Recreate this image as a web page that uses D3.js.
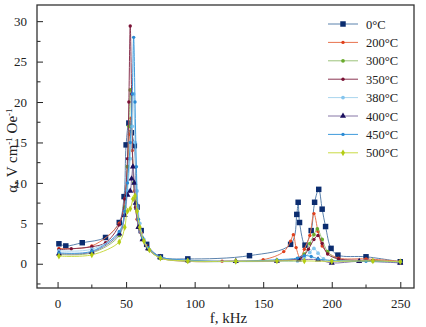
<!DOCTYPE html>
<html>
<head>
<meta charset="utf-8">
<script src="https://cdn.jsdelivr.net/npm/d3@7"></script>
<style>
  html, body { margin: 0; padding: 0; background: #fff; }
  svg { display: block; }
  svg text { font-family: "Liberation Serif", "DejaVu Serif", serif; }
</style>
</head>
<body>
<svg id="chart" width="426" height="327"></svg>
<script>
// Magnetoelectric coefficient vs frequency for several annealing temperatures
const seriesNames = ["0\u00B0C", "200\u00B0C", "300\u00B0C", "350\u00B0C", "380\u00B0C", "400\u00B0C", "450\u00B0C", "500\u00B0C"];

const f0 = [1, 6, 18, 35, 45, 48.5, 50, 52, 54, 56, 58, 61, 65, 75, 95, 140, 170, 174.5, 175.5, 176.5, 180.5, 185, 187.5, 190.5, 193, 195.5, 199.5, 204.5, 225, 250];
const a0 = [2.47, 2.2, 2.6, 3.25, 5.1, 8.3, 14.7, 17.4, 16.2, 14.6, 7.0, 4.1, 2.4, 0.85, 0.6, 1.0, 2.4, 6.1, 7.6, 5.1, 2.3, 4.1, 7.6, 9.2, 6.75, 4.6, 1.9, 1.07, 0.86, 0.25];

const f200 = [1, 25, 45, 49, 51, 52.5, 53.5, 54.5, 56, 58, 61, 65, 75, 95, 120, 150, 165, 170, 172, 174, 177, 180, 184, 187, 190, 193, 197, 205, 225, 250];
const a200 = [1.9, 2.2, 5.0, 8, 12, 16, 18, 14, 9, 5.5, 3.8, 2.2, 0.75, 0.3, 0.3, 0.5, 1.5, 2.8, 3.6, 2.0, 0.7, 1.8, 3.5, 6.2, 4.0, 2.2, 1.4, 0.7, 0.6, 0.3];

const f300 = [1, 25, 45, 49, 51, 52, 53, 54, 55.5, 57, 59, 62, 66, 75, 95, 130, 160, 175, 180, 184, 187, 189.5, 193, 197, 205, 230, 250];
const a300 = [1.15, 1.35, 3.5, 7, 12, 17, 21.5, 17, 10, 7, 4.5, 3, 1.8, 0.7, 0.3, 0.3, 0.4, 0.6, 1.2, 2.5, 3.6, 4.3, 3.0, 1.5, 0.5, 0.35, 0.2];

const f350 = [1, 10, 25, 35, 45, 49, 51, 52, 53, 54, 55, 57, 59, 62, 66, 75, 95, 130, 160, 178, 183, 187, 190, 193, 197, 205, 230, 250];
const a350 = [1.75, 1.85, 2.1, 2.6, 4.8, 8, 13, 20, 29.4, 21, 12, 7, 4.5, 3, 1.8, 0.8, 0.35, 0.3, 0.35, 0.8, 1.8, 3, 3.5, 2.5, 1.2, 0.6, 0.4, 0.2];

const f380 = [1, 25, 45, 49, 51, 53, 54.5, 55.5, 56.5, 58, 60, 63, 67, 75, 95, 130, 160, 175, 180, 184, 187, 190, 194, 200, 220, 250];
const a380 = [1.6, 1.8, 3.8, 6, 9, 13, 17, 21, 15, 9, 5, 3, 1.7, 0.8, 0.35, 0.25, 0.3, 0.35, 0.8, 1.4, 1.9, 1.3, 0.6, 0.4, 0.3, 0.2];

const f400 = [1, 25, 45, 49, 51, 53, 54, 55, 56, 57, 59, 62, 66, 75, 95, 130, 160, 176, 190, 200, 220, 250];
const a400 = [1.25, 1.45, 3.7, 6, 8.5, 9, 10.5, 12, 10, 7.5, 4.5, 3, 1.9, 0.8, 0.4, 0.3, 0.35, 0.5, 0.5, 0.1, 0.3, 0.1];

const f450 = [1, 25, 45, 49, 51, 53, 54.5, 55.5, 56.5, 57.5, 59, 62, 66, 75, 95, 130, 160, 175, 180, 185, 190, 200, 225, 250];
const a450 = [1.35, 1.55, 4.0, 6.5, 10, 15, 21, 28, 20, 12, 5.5, 3.2, 2.0, 0.85, 0.45, 0.3, 0.5, 0.7, 1.0, 0.9, 0.6, 0.4, 0.3, 0.25];

const f500 = [1, 25, 45, 49, 51, 53, 55, 56.5, 58, 60, 63, 67, 75, 95, 130, 160, 180, 200, 230, 250];
const a500 = [0.95, 1.1, 2.7, 4.5, 6.5, 6.8, 8.0, 8.4, 6.5, 4.5, 2.8, 1.7, 0.7, 0.35, 0.3, 0.35, 0.35, 0.3, 0.35, 0.25];

const freqs = [f0, f200, f300, f350, f380, f400, f450, f500];
const alphas = [a0, a200, a300, a350, a380, a400, a450, a500];

const xTicks = [0, 50, 100, 150, 200, 250];
const yTicks = [0, 5, 10, 15, 20, 25, 30];

// styling per series: line colour, marker colour, marker shape, marker size
const lineColors = ["#5b82ad", "#e8734e", "#9cc27a", "#8a3552", "#a9d6ee", "#8676a6", "#3f9bdc", "#c9da44"];
const markColors = ["#0b2c6f", "#e0401c", "#6aab2c", "#7a1034", "#84c5ee", "#1c1060", "#2a8ad4", "#b4cc14"];
const markShapes = [d3.symbolSquare, d3.symbolCircle, d3.symbolCircle, d3.symbolCircle, d3.symbolCircle, d3.symbolTriangle, d3.symbolCircle, d3.symbolDiamond];
const markSizes = [30, 9, 11, 9, 11, 16, 9, 13];

const FONT = "'Liberation Serif', 'DejaVu Serif', serif";
const svg = d3.select("#chart");
const margin = { left: 37, top: 5, right: 12, bottom: 39 };
const W = 426, H = 327;

const x = d3.scaleLinear().domain([-15, 260]).range([margin.left, W - margin.right]);
const y = d3.scaleLinear().domain([-3, 32]).range([H - margin.bottom, margin.top]);

const plot = svg.append("g");
plot.append("clipPath").attr("id", "clip")
  .append("rect")
  .attr("x", margin.left).attr("y", margin.top)
  .attr("width", W - margin.left - margin.right)
  .attr("height", H - margin.top - margin.bottom);

const line = d3.line()
  .x(d => x(d[0])).y(d => y(d[1]))
  .curve(d3.curveCatmullRom.alpha(0.5));

const data = freqs.map((fs, i) => fs.map((f, j) => [f, alphas[i][j]]));

const lines = plot.append("g").attr("clip-path", "url(#clip)");
data.forEach((pts, i) => {
  lines.append("path")
    .attr("d", line(pts))
    .attr("fill", "none")
    .attr("stroke", lineColors[i])
    .attr("stroke-width", 1);
  lines.append("g").selectAll("path")
    .data(pts).join("path")
    .attr("transform", d => `translate(${x(d[0])},${y(d[1])})`)
    .attr("d", d3.symbol().type(markShapes[i]).size(markSizes[i]))
    .attr("fill", markColors[i]);
});

// axes with inward ticks
const xMinor = d3.range(25, 250, 50);
const yMinor = d3.range(-2.5, 30, 5);
const xAxis = svg.append("g").attr("transform", `translate(0,${H - margin.bottom})`);
xAxis.call(d3.axisBottom(x).tickValues(xTicks).tickSize(-6).tickPadding(11).tickFormat(d3.format("d")));
xAxis.append("g").selectAll("line").data(xMinor).join("line")
  .attr("x1", d => x(d)).attr("x2", d => x(d)).attr("y1", 0).attr("y2", -3.5)
  .attr("stroke", "#222");

const yAxis = svg.append("g").attr("transform", `translate(${margin.left},0)`);
yAxis.call(d3.axisLeft(y).tickValues(yTicks).tickSize(-6).tickPadding(10).tickFormat(d3.format("d")));
yAxis.append("g").selectAll("line").data(yMinor).join("line")
  .attr("y1", d => y(d)).attr("y2", d => y(d)).attr("x1", 0).attr("x2", 3.5)
  .attr("stroke", "#222");

[xAxis, yAxis].forEach(g => {
  g.attr("font-family", FONT);
  g.select(".domain").remove();
  g.selectAll(".tick line").attr("stroke", "#222");
  g.selectAll(".tick text").attr("font-size", 13).attr("fill", "#222")
    .attr("font-family", FONT);
});

// frame
svg.append("rect")
  .attr("x", margin.left).attr("y", margin.top)
  .attr("width", W - margin.left - margin.right)
  .attr("height", H - margin.top - margin.bottom)
  .attr("fill", "none").attr("stroke", "#333").attr("stroke-width", 1.3);

// axis titles
svg.append("text")
  .attr("x", (margin.left + W - margin.right) / 2 + 3).attr("y", 323)
  .attr("text-anchor", "middle").attr("font-size", 15).attr("fill", "#222")
  .attr("font-family", FONT)
  .text("f, kHz");

const yt = svg.append("text")
  .attr("transform", `translate(17,${(margin.top + H - margin.bottom) / 2 + 4}) rotate(-90)`)
  .attr("text-anchor", "middle").attr("font-size", 15).attr("fill", "#222")
  .attr("font-family", FONT);
yt.append("tspan").text("\u03B1, V cm");
yt.append("tspan").attr("dy", -5).attr("font-size", 9).text("-1");
yt.append("tspan").attr("dy", 5).text(" Oe");
yt.append("tspan").attr("dy", -5).attr("font-size", 9).text("-1");

// legend
const legend = svg.append("g");
seriesNames.forEach((name, i) => {
  const ly = 24 + i * 18.4;
  legend.append("line")
    .attr("x1", 328).attr("x2", 358).attr("y1", ly).attr("y2", ly)
    .attr("stroke", lineColors[i]).attr("stroke-width", 1);
  legend.append("path")
    .attr("transform", `translate(343,${ly})`)
    .attr("d", d3.symbol().type(markShapes[i]).size(markSizes[i]))
    .attr("fill", markColors[i]);
  legend.append("text")
    .attr("x", 366).attr("y", ly + 4.5)
    .attr("font-size", 12.5).attr("fill", "#222")
    .attr("font-family", FONT)
    .text(name);
});
</script>
</body>
</html>
